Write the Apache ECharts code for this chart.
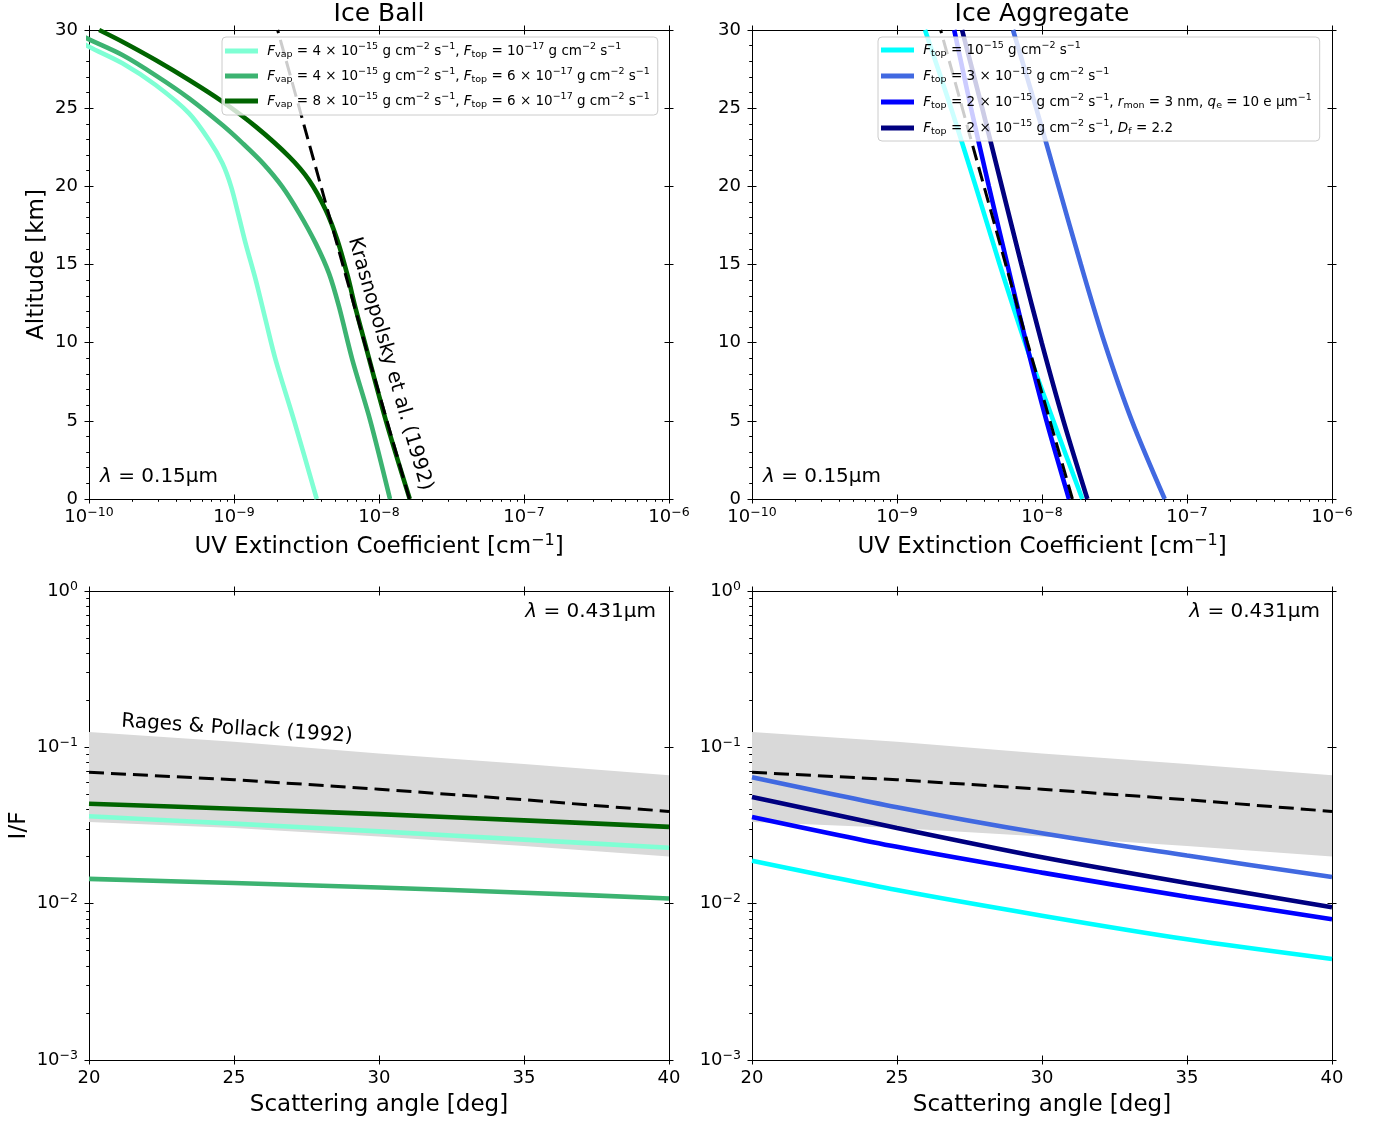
<!DOCTYPE html>
<html><head><meta charset="utf-8">
<script src="https://cdn.jsdelivr.net/npm/echarts@6/dist/echarts.min.js"></script>
<style>html,body{margin:0;padding:0;background:#fff}#c{width:1380px;height:1121px}</style>
</head><body><div id="c"></div><script>
// ---------------- data ----------------
const extTicks = [1e-10, 1e-9, 1e-8, 1e-7, 1e-6];
const altTicks = [0, 5, 10, 15, 20, 25, 30];
const angleTicks = [20, 25, 30, 35, 40];
const ifTicks = [1e-3, 1e-2, 1e-1, 1];

// Ice Ball (top-left): altitude [km] vs UV extinction [cm^-1]
const altBallA = [0, 5, 8.9, 11.45, 14, 16.35, 18.06, 19.98, 21.47, 22.96, 24.67, 26.48, 27.87, 28.93, 30];
const extBallA = [3.72e-9, 2.60e-9, 1.936e-9, 1.652e-9, 1.413e-9, 1.202e-9, 1.081e-9, 9.55e-10, 8.32e-10, 6.73e-10, 4.90e-10, 2.88e-10, 1.70e-10, 1.0e-10, 6.3e-11];
const altBallB = [0, 5, 8.9, 12.3, 14.43, 16.35, 18.27, 19.98, 21.47, 22.75, 23.92, 25.63, 27.1, 28.4, 29.4, 30];
const extBallB = [1.191e-8, 8.71e-9, 6.55e-9, 5.30e-9, 4.52e-9, 3.66e-9, 2.82e-9, 2.15e-9, 1.585e-9, 1.148e-9, 8.32e-10, 4.90e-10, 2.88e-10, 1.70e-10, 1.0e-10, 7.4e-11];
const altBallC = [0, 5, 10, 12.5, 14.22, 16.57, 18.49, 20.4, 21.9, 23.82, 25.42, 26.8, 28.08, 29.25, 30];
const extBallC = [1.63e-8, 1.117e-8, 7.98e-9, 6.76e-9, 6.10e-9, 5.16e-9, 4.29e-9, 3.29e-9, 2.40e-9, 1.413e-9, 8.32e-10, 4.90e-10, 2.88e-10, 1.70e-10, 1.175e-10];
// Krasnopolsky et al. (1992)
const altKras = [0, 10, 20, 30];
const extKras = [1.622e-8, 7.94e-9, 3.98e-9, 2.0e-9];

// Ice Aggregate (top-right)
const altAgg = [0, 5, 10, 15, 20, 25, 30];
const extAggCyan = [1.897e-8, 1.197e-8, 7.64e-9, 5.11e-9, 3.49e-9, 2.36e-9, 1.56e-9];
const extAggRoyal = [7.02e-8, 4.17e-8, 2.70e-8, 1.854e-8, 1.300e-8, 9.12e-9, 6.31e-9];
const extAggBlue = [1.535e-8, 1.074e-8, 7.78e-9, 5.77e-9, 4.30e-9, 3.24e-9, 2.48e-9];
const extAggNavy = [2.056e-8, 1.406e-8, 9.95e-9, 7.21e-9, 5.28e-9, 3.87e-9, 2.81e-9];

// I/F vs scattering angle (bottom)
const angles = [20, 25, 30, 35, 40];
const ifBandUpper = [0.1253, 0.1086, 0.0912, 0.0782, 0.0664];
const ifBandLower = [0.0333, 0.0305, 0.0269, 0.0234, 0.0200];
const ifRages = [0.0692, 0.0621, 0.0540, 0.0462, 0.0389];
const ifBallA = [0.0362, 0.0325, 0.0290, 0.0257, 0.0228];
const ifBallB = [0.0144, 0.01355, 0.01268, 0.01175, 0.0108];
const ifBallC = [0.0436, 0.0405, 0.0374, 0.0341, 0.0310];
const ifAggCyan = [0.0188, 0.01222, 0.00838, 0.00592, 0.00443];
const ifAggRoyal = [0.0644, 0.0414, 0.0282, 0.0203, 0.0148];
const ifAggBlue = [0.0359, 0.0231, 0.0158, 0.01107, 0.00796];
const ifAggNavy = [0.0482, 0.0305, 0.0198, 0.01355, 0.0095];

// ---------------- styling ----------------
const FONT = 'DejaVu Sans';
const COL = {ballA:'#7fffd4', ballB:'#3cb371', ballC:'#006400', aggCyan:'#00ffff', aggRoyal:'#4169e1', aggBlue:'#0000ff', aggNavy:'#000080'};
const LW = 4.6;

function logMinor(lo, hi){ const out=[]; for(let e=lo;e<hi;e++) for(let k=2;k<=9;k++) out.push(+(k*Math.pow(10,e)).toPrecision(3)); return out; }
const altMinor = []; for (let v=0; v<=30; v++) if (v%5) altMinor.push(v);

function supLabel(v){ const e=Math.round(Math.log10(v)); return '{b|10}{s|'+(e<0?'\u2212'+(-e):e)+'}'; }
const tickRich = {
  b:{fontFamily:FONT, fontSize:18, lineHeight:22, color:'#000'},
  s:{fontFamily:FONT, fontSize:12.5, lineHeight:13, verticalAlign:'top', color:'#000'}
};
const nameRich = {
  n:{fontFamily:FONT, fontSize:23, lineHeight:28, color:'#000'},
  s:{fontFamily:FONT, fontSize:16, lineHeight:16, verticalAlign:'top', color:'#000'}
};

const xAxes = [], yAxes = [];
function addAxes(list, dim, grid, spec){
  const sides = dim==='x' ? ['bottom','top'] : ['left','right'];
  const base = {type:spec.type, min:spec.min, max:spec.max, gridIndex:grid, silent:true,
    splitLine:{show:false}, minorTick:{show:false}, minorSplitLine:{show:false}};
  if (spec.type==='log') base.logBase = 10;
  if (spec.interval) base.interval = spec.interval;
  const tk = (inside, len, vals) => ({show:true, inside:inside, length:len, lineStyle:{color:'#000', width:1}, customValues:vals});
  const mainIdx = list.length;
  list.push(Object.assign({}, base, {
    position:sides[0],
    axisLine:{show:true, onZero:false, lineStyle:{color:'#000', width:1}},
    axisTick:tk(false, 4.5, spec.major),
    axisLabel:{show:true, customValues:spec.major, formatter:spec.fmt, margin:spec.margin,
      fontFamily:FONT, fontSize:18, lineHeight:22, color:'#000', rich:tickRich},
    name:spec.name, nameLocation:'middle', nameGap:spec.nameGap,
    nameTextStyle:{fontFamily:FONT, fontSize:23, lineHeight:28, color:'#000', rich:nameRich}
  }));
  list.push(Object.assign({}, base, {position:sides[0], axisLine:{show:false, onZero:false}, axisTick:tk(true, 4.5, spec.major), axisLabel:{show:false}}));
  list.push(Object.assign({}, base, {position:sides[1], axisLine:{show:true, onZero:false, lineStyle:{color:'#000', width:1}}, axisTick:tk(false, 4.5, spec.major), axisLabel:{show:false}}));
  list.push(Object.assign({}, base, {position:sides[1], axisLine:{show:false, onZero:false}, axisTick:tk(true, 4.5, spec.major), axisLabel:{show:false}}));
  if (spec.minor) list.push(Object.assign({}, base, {position:sides[0], axisLine:{show:false, onZero:false}, axisTick:tk(false, 2.8, spec.minor), axisLabel:{show:false}}));
  return mainIdx;
}

const extSpec = {type:'log', min:1e-10, max:1e-6, major:extTicks, minor:logMinor(-10,-6), fmt:supLabel, margin:7,
  name:'{n|UV Extinction Coefficient [cm}{s|\u22121}{n|]}', nameGap:34};
const altSpecL = {type:'value', min:0, max:30, interval:5, major:altTicks, minor:altMinor, fmt:v=>String(v), margin:11,
  name:'Altitude [km]', nameGap:36};
const altSpecR = Object.assign({}, altSpecL, {name:''});
const angSpec = {type:'value', min:20, max:40, interval:5, major:angleTicks, minor:null, fmt:v=>String(v), margin:7,
  name:'Scattering angle [deg]', nameGap:31};
const ifSpecL = {type:'log', min:1e-3, max:1, major:ifTicks, minor:logMinor(-3,0), fmt:supLabel, margin:11,
  name:'I/F', nameGap:55};
const ifSpecR = Object.assign({}, ifSpecL, {name:''});

const ax = [];
ax[0] = [addAxes(xAxes,'x',0,extSpec), addAxes(yAxes,'y',0,altSpecL)];
ax[1] = [addAxes(xAxes,'x',1,extSpec), addAxes(yAxes,'y',1,altSpecR)];
ax[2] = [addAxes(xAxes,'x',2,angSpec), addAxes(yAxes,'y',2,ifSpecL)];
ax[3] = [addAxes(xAxes,'x',3,angSpec), addAxes(yAxes,'y',3,ifSpecR)];

function line(name, xs, ys, color, p, opt){
  return Object.assign({type:'line', name:name, xAxisIndex:ax[p][0], yAxisIndex:ax[p][1],
    data: xs.map((x,i)=>[x, ys[i]]), symbol:'none', showSymbol:false, smooth:0.3,
    lineStyle:{color:color, width:LW}, itemStyle:{color:color}, z:2, silent:true, animation:false}, opt||{});
}
function dashed(xs, ys, p){
  return line('dash'+p, xs, ys, '#000', p, {smooth:false, z:3, lineStyle:{color:'#000', width:3, type:[15,7]}});
}
function band(p){
  return {type:'custom', name:'band'+p, xAxisIndex:ax[p][0], yAxisIndex:ax[p][1], z:1, silent:true, animation:false,
    data: angles.map((a,i)=>[a, ifBandLower[i], ifBandUpper[i]]),
    encode:{x:0, y:[1,2]},
    renderItem:(params, api)=>{
      if (params.dataIndex !== 0) return null;
      const n = params.dataInsideLength;
      const top=[], bot=[];
      for (let i=0;i<n;i++){
        top.push(api.coord([api.value(0,i), api.value(2,i)]));
        bot.push(api.coord([api.value(0,i), api.value(1,i)]));
      }
      return {type:'polygon', shape:{points: top.concat(bot.reverse())}, style:{fill:'#d9d9d9', stroke:null}};
    }
  };
}
const series = [
  line('ballA', extBallA, altBallA, COL.ballA, 0),
  line('ballB', extBallB, altBallB, COL.ballB, 0),
  line('ballC', extBallC, altBallC, COL.ballC, 0),
  dashed(extKras, altKras, 0),
  line('aggCyan', extAggCyan, altAgg, COL.aggCyan, 1),
  line('aggRoyal', extAggRoyal, altAgg, COL.aggRoyal, 1),
  line('aggBlue', extAggBlue, altAgg, COL.aggBlue, 1),
  line('aggNavy', extAggNavy, altAgg, COL.aggNavy, 1),
  dashed(extKras, altKras, 1),
  band(2),
  dashed(angles, ifRages, 2),
  line('ballA', angles, ifBallA, COL.ballA, 2),
  line('ballB', angles, ifBallB, COL.ballB, 2),
  line('ballC', angles, ifBallC, COL.ballC, 2),
  band(3),
  dashed(angles, ifRages, 3),
  line('aggCyan', angles, ifAggCyan, COL.aggCyan, 3),
  line('aggRoyal', angles, ifAggRoyal, COL.aggRoyal, 3),
  line('aggBlue', angles, ifAggBlue, COL.aggBlue, 3),
  line('aggNavy', angles, ifAggNavy, COL.aggNavy, 3)
];

const FLUX = '{n| g cm}{sup|\u22122}{n| s}{sup|\u22121}';
const legendText = {
  ballA:'{n| }{i|F}{sub|vap}{n| = 4 \u00d7 10}{sup|\u221215}'+FLUX+'{n|, }{i|F}{sub|top}{n| = 10}{sup|\u221217}'+FLUX,
  ballB:'{n| }{i|F}{sub|vap}{n| = 4 \u00d7 10}{sup|\u221215}'+FLUX+'{n|, }{i|F}{sub|top}{n| = 6 \u00d7 10}{sup|\u221217}'+FLUX,
  ballC:'{n| }{i|F}{sub|vap}{n| = 8 \u00d7 10}{sup|\u221215}'+FLUX+'{n|, }{i|F}{sub|top}{n| = 6 \u00d7 10}{sup|\u221217}'+FLUX,
  aggCyan:'{n| }{i|F}{sub|top}{n| = 10}{sup|\u221215}'+FLUX,
  aggRoyal:'{n| }{i|F}{sub|top}{n| = 3 \u00d7 10}{sup|\u221215}'+FLUX,
  aggBlue:'{n| }{i|F}{sub|top}{n| = 2 \u00d7 10}{sup|\u221215}'+FLUX+'{n|, }{i|r}{sub|mon}{n| = 3 nm, }{i|q}{sub|e}{n| = 10 e \u03bcm}{sup|\u22121}',
  aggNavy:'{n| }{i|F}{sub|top}{n| = 2 \u00d7 10}{sup|\u221215}'+FLUX+'{n|, }{i|D}{sub|f}{n| = 2.2}'
};
const legRich = {
  n:{fontFamily:FONT, fontSize:13.5, lineHeight:18, color:'#000'},
  i:{fontFamily:FONT, fontSize:13.5, lineHeight:18, fontStyle:'italic', color:'#000'},
  sub:{fontFamily:FONT, fontSize:9.5, lineHeight:10, verticalAlign:'bottom', color:'#000'},
  sup:{fontFamily:FONT, fontSize:9.5, lineHeight:10, verticalAlign:'top', color:'#000'}
};
const legBase = {orient:'vertical', icon:'rect', itemWidth:33, itemHeight:5, selectedMode:false,
  backgroundColor:'rgba(255,255,255,0.8)', borderColor:'#cccccc', borderWidth:1, borderRadius:4,
  formatter:n=>legendText[n], textStyle:{fontFamily:FONT, fontSize:13.5, color:'#000', rich:legRich}};

const annRich = {
  i:{fontFamily:FONT, fontSize:20, fontStyle:'italic', color:'#000'},
  n:{fontFamily:FONT, fontSize:20, color:'#000'}
};
function txt(text, x, y, size, align, rot){
  return {type:'text', x:x, y:y, rotation:rot||0, silent:true, z:10,
    style:{text:text, fontFamily:FONT, fontSize:size, fill:'#000', align:align, textAlign:align,
      verticalAlign:'middle', textVerticalAlign:'middle', rich:annRich}};
}

const chart = echarts.init(document.getElementById('c'), null, {renderer:'canvas', width:1380, height:1121});
chart.setOption({
  animation:false,
  backgroundColor:'#ffffff',
  grid:[
    {left:89, top:30, width:580, height:469, outerBoundsMode:'none'},
    {left:752, top:30, width:580, height:469, outerBoundsMode:'none'},
    {left:89, top:591, width:580, height:469, outerBoundsMode:'none'},
    {left:752, top:591, width:580, height:469, outerBoundsMode:'none'}
  ],
  xAxis:xAxes, yAxis:yAxes,
  legend:[
    Object.assign({}, legBase, {data:['ballA','ballB','ballC'], left:222, top:37, itemGap:7, padding:[5,8,5,3]}),
    Object.assign({}, legBase, {data:['aggCyan','aggRoyal','aggBlue','aggNavy'], left:878, top:37, itemGap:8, padding:[4,8,4,3]})
  ],
  graphic:[
    txt('Ice Ball', 379, 14, 25, 'center'),
    txt('Ice Aggregate', 1042, 14, 25, 'center'),
    txt('{i|\u03bb}{n| = 0.15\u03bcm}', 100, 477, 20, 'left'),
    txt('{i|\u03bb}{n| = 0.15\u03bcm}', 763, 477, 20, 'left'),
    txt('{i|\u03bb}{n| = 0.431\u03bcm}', 656, 612, 20, 'right'),
    txt('{i|\u03bb}{n| = 0.431\u03bcm}', 1320, 612, 20, 'right'),
    txt('Krasnopolsky et al. (1992)', 390, 364, 20, 'center', -1.29),
    txt('Rages & Pollack (1992)', 237, 729, 20, 'center', -0.066)
  ],
  series:series
});
</script></body></html>
